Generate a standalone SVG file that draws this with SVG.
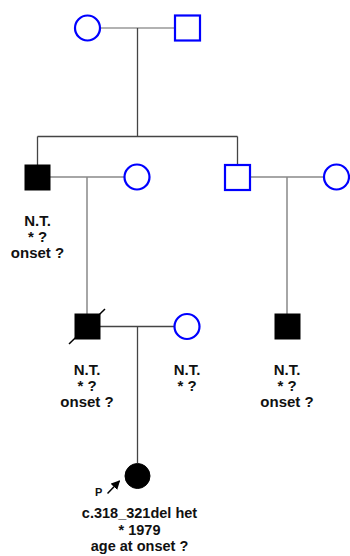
<svg xmlns="http://www.w3.org/2000/svg" width="350" height="556" viewBox="0 0 350 556">
<style>
.ln{stroke:#666;stroke-width:1.5;fill:none}
.lnd{stroke:#444;stroke-width:1.3;fill:none}
.m{fill:#fff;stroke:#00f;stroke-width:2.2}
.a{fill:#000;stroke:#000;stroke-width:1}
.t{font-family:"Liberation Sans",Arial,sans-serif;font-weight:bold;font-size:15px;fill:#111;text-anchor:middle}
.tp{font-size:14.5px}
.p{font-family:"Liberation Sans",Arial,sans-serif;font-weight:bold;font-size:11px;fill:#111}
</style>
<defs>
<marker id="ah" viewBox="0 0 10 10" refX="9" refY="5" markerWidth="6" markerHeight="6" orient="auto"><path d="M0,0 L10,5 L0,10 z" fill="#000"/></marker>
</defs>
<rect width="350" height="556" fill="#fff"/>
<g id="connectors">
<line class="ln" x1="100" y1="28" x2="175" y2="28" style="stroke:#999"/>
<line class="lnd" x1="137.5" y1="28" x2="137.5" y2="136.5"/>
<line class="lnd" x1="37.5" y1="136.5" x2="237.5" y2="136.5"/>
<line class="lnd" x1="37.5" y1="136.5" x2="37.5" y2="165"/>
<line class="lnd" x1="237.5" y1="136.5" x2="237.5" y2="165"/>
<line class="ln" x1="50" y1="177" x2="124.5" y2="177" style="stroke:#888"/>
<line class="ln" x1="87" y1="177" x2="87" y2="314" style="stroke:#888"/>
<line class="ln" x1="250" y1="177" x2="324" y2="177" style="stroke:#888"/>
<line class="ln" x1="287" y1="177" x2="287" y2="314" style="stroke:#888"/>
<line class="lnd" x1="100" y1="326.5" x2="174.5" y2="326.5"/>
<line class="lnd" x1="137.5" y1="326.5" x2="137.5" y2="463"/>
</g>
<g id="gp-mother"><circle class="m" cx="87.5" cy="28" r="12.5"/></g>
<g id="gp-father"><rect class="m" x="175" y="15.5" width="25" height="25"/></g>
<g id="father"><rect class="a" x="25" y="165" width="25" height="25"/>
<text class="t" x="37.5" y="226">N.T.</text><text class="t" x="37.5" y="242">* ?</text><text class="t" x="37.5" y="258">onset ?</text></g>
<g id="father-wife"><circle class="m" cx="137" cy="177" r="12.5"/></g>
<g id="uncle"><rect class="m" x="225" y="165" width="25" height="25"/></g>
<g id="uncle-wife"><circle class="m" cx="336.5" cy="177" r="12.5"/></g>
<g id="son"><rect class="a" x="75" y="314" width="25" height="25"/>
<line x1="69" y1="344" x2="105" y2="309" stroke="#000" stroke-width="1.5"/>
<text class="t" x="87" y="375">N.T.</text><text class="t" x="87" y="391">* ?</text><text class="t" x="87" y="407">onset ?</text></g>
<g id="son-wife"><circle class="m" cx="187" cy="326.5" r="12.5"/>
<text class="t" x="187" y="375">N.T.</text><text class="t" x="187" y="391">* ?</text></g>
<g id="cousin"><rect class="a" x="275" y="314" width="25" height="25"/>
<text class="t" x="287" y="375">N.T.</text><text class="t" x="287" y="391">* ?</text><text class="t" x="287" y="407">onset ?</text></g>
<g id="proband"><circle class="a" cx="137.5" cy="476" r="12.5"/>
<line x1="107.5" y1="493.5" x2="119.5" y2="481" stroke="#000" stroke-width="1.5" marker-end="url(#ah)"/>
<text class="p" x="95" y="496">P</text>
<text class="t tp" x="139.5" y="518">c.318_321del het</text><text class="t tp" x="139.5" y="534.5">* 1979</text><text class="t tp" x="139.5" y="551">age at onset ?</text></g>
</svg>
